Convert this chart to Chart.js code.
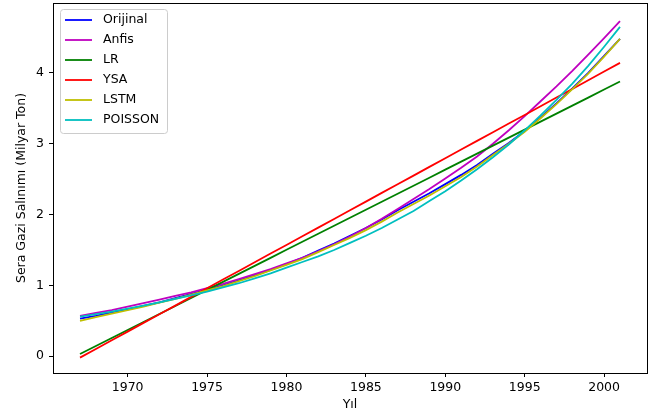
<!DOCTYPE html>
<html>
<head>
<meta charset="utf-8">
<script src="https://cdn.jsdelivr.net/npm/chart.js@4"></script>
<style>
  html, body { margin: 0; padding: 0; background: #fff; }
  #wrap { width: 653px; height: 412px; }
</style>
</head>
<body>
<div id="wrap"><canvas id="c" width="653" height="412"></canvas></div>
<script>
// Yearly greenhouse gas emissions (billion tonnes) and model estimates
const years = [1967, 1968, 1969, 1970, 1971, 1972, 1973, 1974, 1975, 1976, 1977, 1978,
  1979, 1980, 1981, 1982, 1983, 1984, 1985, 1986, 1987, 1988, 1989, 1990, 1991, 1992,
  1993, 1994, 1995, 1996, 1997, 1998, 1999, 2000, 2001];

const orijinal = [0.53, 0.57, 0.62, 0.66, 0.71, 0.76, 0.82, 0.88, 0.94, 1.00, 1.07, 1.14,
  1.22, 1.30, 1.39, 1.49, 1.59, 1.70, 1.81, 1.93, 2.06, 2.18, 2.30, 2.43, 2.56, 2.70,
  2.86, 3.01, 3.18, 3.37, 3.57, 3.78, 4.00, 4.24, 4.48];

const anfis = [0.57, 0.61, 0.65, 0.70, 0.75, 0.80, 0.85, 0.90, 0.96, 1.02, 1.09, 1.16,
  1.23, 1.31, 1.39, 1.48, 1.58, 1.69, 1.81, 1.94, 2.08, 2.22, 2.36, 2.51, 2.66, 2.82,
  3.00, 3.19, 3.39, 3.60, 3.81, 4.03, 4.26, 4.49, 4.73];

const lr = [0.030, 0.143, 0.256, 0.370, 0.483, 0.596, 0.709, 0.822, 0.936, 1.049, 1.162,
  1.275, 1.388, 1.502, 1.615, 1.728, 1.841, 1.954, 2.068, 2.181, 2.294, 2.407, 2.520,
  2.634, 2.747, 2.860, 2.973, 3.086, 3.200, 3.313, 3.426, 3.539, 3.652, 3.766, 3.879];

const ysa = [-0.020, 0.102, 0.225, 0.347, 0.470, 0.592, 0.714, 0.837, 0.959, 1.082, 1.204,
  1.326, 1.449, 1.571, 1.694, 1.816, 1.938, 2.061, 2.183, 2.306, 2.428, 2.550, 2.673,
  2.795, 2.918, 3.040, 3.162, 3.285, 3.407, 3.530, 3.652, 3.774, 3.897, 4.019, 4.142];

const lstm = [0.50, 0.55, 0.60, 0.65, 0.70, 0.755, 0.81, 0.87, 0.93, 0.99, 1.06, 1.13,
  1.21, 1.29, 1.37, 1.47, 1.57, 1.67, 1.78, 1.90, 2.03, 2.15, 2.27, 2.40, 2.53, 2.68,
  2.84, 3.00, 3.17, 3.36, 3.56, 3.77, 3.99, 4.23, 4.48];

const poisson = [0.56, 0.595, 0.63, 0.67, 0.715, 0.76, 0.81, 0.86, 0.91, 0.97, 1.03, 1.10,
  1.17, 1.25, 1.33, 1.41, 1.50, 1.60, 1.70, 1.81, 1.93, 2.05, 2.19, 2.33, 2.48, 2.64,
  2.81, 2.99, 3.19, 3.40, 3.62, 3.85, 4.10, 4.37, 4.65];

const xTicks = [1970, 1975, 1980, 1985, 1990, 1995, 2000];
const yTicks = [0, 1, 2, 3, 4];

const seriesNames = ['Orijinal', 'Anfis', 'LR', 'YSA', 'LSTM', 'POISSON'];
const seriesData = [orijinal, anfis, lr, ysa, lstm, poisson];
const seriesColors = ['#0000ff', '#bf00bf', '#008000', '#ff0000', '#bfbf00', '#00bfbf'];

const FONT = 'DejaVu Sans';
const FSIZE = 12.5;

const datasets = seriesNames.map((name, i) => ({
  label: name,
  data: years.map((y, k) => ({ x: y, y: seriesData[i][k] })),
  borderColor: seriesColors[i],
  backgroundColor: seriesColors[i],
  borderWidth: 1.8,
  pointRadius: 0,
  tension: 0,
  fill: false,
  order: seriesNames.length - 1 - i   // later series drawn on top
}));

// Full rectangular frame around the plot area
const framePlugin = {
  id: 'frame',
  afterDatasetsDraw(chart) {
    const { ctx, chartArea: a } = chart;
    ctx.save();
    ctx.strokeStyle = '#000';
    ctx.lineWidth = 1;
    ctx.strokeRect(Math.round(a.left) + 0.5, Math.round(a.top) + 0.5,
      Math.round(a.right - a.left), Math.round(a.bottom - a.top));
    ctx.restore();
  }
};

// Boxed legend in the upper-left corner of the plot
const boxLegend = {
  id: 'boxLegend',
  afterDraw(chart) {
    const { ctx } = chart;
    const x = 60.5, y = 9.5, w = 107, h = 124, r = 3;
    ctx.save();
    ctx.beginPath();
    ctx.moveTo(x + r, y);
    ctx.lineTo(x + w - r, y);
    ctx.arcTo(x + w, y, x + w, y + r, r);
    ctx.lineTo(x + w, y + h - r);
    ctx.arcTo(x + w, y + h, x + w - r, y + h, r);
    ctx.lineTo(x + r, y + h);
    ctx.arcTo(x, y + h, x, y + h - r, r);
    ctx.lineTo(x, y + r);
    ctx.arcTo(x, y, x + r, y, r);
    ctx.closePath();
    ctx.fillStyle = 'rgba(255,255,255,0.8)';
    ctx.fill();
    ctx.strokeStyle = '#cccccc';
    ctx.lineWidth = 1;
    ctx.stroke();

    ctx.font = FSIZE + 'px "' + FONT + '"';
    ctx.textBaseline = 'middle';
    ctx.textAlign = 'left';
    chart.data.datasets.forEach((ds, i) => {
      const ry = 20 + i * 20;
      ctx.beginPath();
      ctx.moveTo(65, ry);
      ctx.lineTo(92, ry);
      ctx.strokeStyle = ds.borderColor;
      ctx.lineWidth = 1.8;
      ctx.stroke();
      ctx.fillStyle = '#000';
      ctx.fillText(ds.label, 103, ry);
    });
    ctx.restore();
  }
};

new Chart(document.getElementById('c'), {
  type: 'line',
  data: { datasets },
  options: {
    responsive: false,
    animation: false,
    devicePixelRatio: 1,
    layout: { padding: { top: 3, right: 6, left: 0, bottom: 0 } },
    plugins: {
      legend: { display: false },
      tooltip: { enabled: false }
    },
    scales: {
      x: {
        type: 'linear',
        min: 1965.3,
        max: 2002.7,
        afterBuildTicks(scale) { scale.ticks = xTicks.map(v => ({ value: v })); },
        afterFit(scale) { scale.height = 39; scale.paddingLeft = 0; scale.paddingRight = 0; },
        ticks: {
          font: { family: FONT, size: FSIZE },
          color: '#000',
          padding: 3,
          maxRotation: 0,
          autoSkip: false,
          callback: v => String(v)
        },
        grid: { drawOnChartArea: false, drawTicks: true, tickLength: 4, color: '#000' },
        border: { display: false },
        title: {
          display: true,
          text: 'Yıl',
          font: { family: FONT, size: FSIZE },
          color: '#000',
          padding: { top: 0, bottom: 0 }
        }
      },
      y: {
        type: 'linear',
        min: -0.2375,
        max: 4.9875,
        afterBuildTicks(scale) { scale.ticks = yTicks.map(v => ({ value: v })); },
        afterFit(scale) { scale.width = 53; scale.paddingTop = 0; scale.paddingBottom = 0; },
        ticks: {
          font: { family: FONT, size: FSIZE },
          color: '#000',
          padding: 5,
          callback: v => String(v)
        },
        grid: { drawOnChartArea: false, drawTicks: true, tickLength: 4, color: '#000' },
        border: { display: false },
        title: {
          display: true,
          text: 'Sera Gazi Salınımı (Milyar Ton)',
          font: { family: FONT, size: FSIZE },
          color: '#000',
          padding: { top: 14, bottom: 0 }
        }
      }
    }
  },
  plugins: [framePlugin, boxLegend]
});
</script>
</body>
</html>
